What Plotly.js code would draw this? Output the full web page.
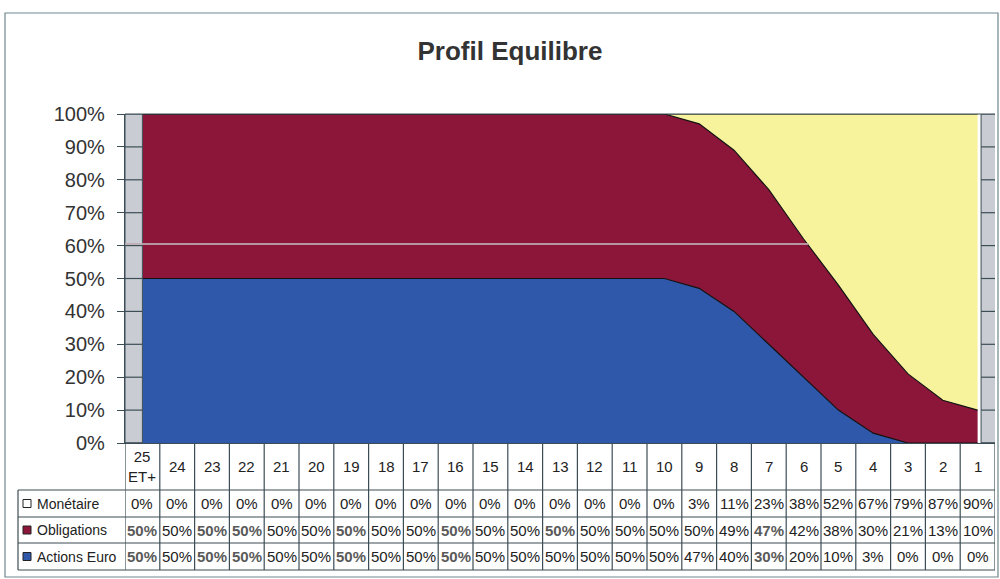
<!DOCTYPE html>
<html>
<head>
<meta charset="utf-8">
<script src="https://cdn.plot.ly/plotly-3.0.1.min.js"></script>
<style>
  html, body { margin: 0; padding: 0; background: #fff; }
  #plot { width: 1000px; height: 579px; }
</style>
</head>
<body>
<div id="plot"></div>
<script>
// années restantes avant l'échéance
var categories = ["25<br>ET+", "24", "23", "22", "21", "20", "19", "18", "17", "16", "15", "14", "13",
                  "12", "11", "10", "9", "8", "7", "6", "5", "4", "3", "2", "1"];

var monetaire   = [0, 0, 0, 0, 0, 0, 0, 0, 0, 0, 0, 0, 0, 0, 0, 0, 3, 11, 23, 38, 52, 67, 79, 87, 90];
var obligations = [50, 50, 50, 50, 50, 50, 50, 50, 50, 50, 50, 50, 50, 50, 50, 50, 50, 49, 47, 42, 38, 30, 21, 13, 10];
var actions     = [50, 50, 50, 50, 50, 50, 50, 50, 50, 50, 50, 50, 50, 50, 50, 50, 47, 40, 30, 20, 10, 3, 0, 0, 0];

var seriesNames = ["Monétaire", "Obligations", "Actions Euro"];
var colors = ["#f7f29c", "#8c1639", "#2f58ab"];

// cellules qui ressortent en gras dans le tableau
var boldObligations = [0, 2, 3, 6, 9, 12, 18];
var boldActions = [0, 2, 3, 6, 9, 18];

// cadre de la zone de tracé, en pixels
var L = 125, R = 995, T = 114, B = 443;
var W = 1000, H = 579;

function px(x) { return (x - L) / (R - L); }
function py(y) { return (B - y) / (B - T); }

var xs = categories.map(function (c, i) { return i; });

var traces = [
  { name: seriesNames[2], y: actions, color: colors[2] },
  { name: seriesNames[1], y: obligations, color: colors[1] },
  { name: seriesNames[0], y: monetaire, color: colors[0] }
].map(function (s) {
  return {
    x: xs,
    y: s.y,
    name: s.name,
    type: "scatter",
    mode: "lines",
    stackgroup: "one",
    fillcolor: s.color,
    line: { color: "#111", width: 1.2, shape: "linear" },
    hoverinfo: "skip"
  };
});

var lineColor = "#3d4d55";
var shapes = [];
var annotations = [];

// murs latéraux gris
shapes.push({ type: "rect", xref: "x", yref: "paper", x0: -0.5, x1: 0, y0: 0, y1: 1,
  fillcolor: "#c9cdd3", line: { color: lineColor, width: 1 }, layer: "above" });
shapes.push({ type: "rect", xref: "x", yref: "paper", x0: 24.1, x1: 24.55, y0: 0, y1: 1,
  fillcolor: "#c9cdd3", line: { color: lineColor, width: 1 }, layer: "above" });
// graduations sur les murs
for (var v = 0; v <= 100; v += 10) {
  shapes.push({ type: "line", xref: "x", yref: "y", x0: -0.5, x1: 0, y0: v, y1: v,
    line: { color: lineColor, width: 1.2 } });
  shapes.push({ type: "line", xref: "x", yref: "y", x0: 24.1, x1: 24.55, y0: v, y1: v,
    line: { color: lineColor, width: 1.2 } });
}
// bord supérieur du fond
shapes.push({ type: "line", xref: "x", yref: "paper", x0: 0, x1: 24.1, y0: 1, y1: 1,
  line: { color: lineColor, width: 1 } });

// trait gris à 60% (jusqu'à la zone monétaire)
var top2 = obligations.map(function (o, i) { return o + actions[i]; });
var cross = 24;
for (var i = 0; i < top2.length - 1; i++) {
  if (top2[i] >= 60 && top2[i + 1] < 60) {
    cross = i + (top2[i] - 60) / (top2[i] - top2[i + 1]);
    break;
  }
}
shapes.push({ type: "line", xref: "x", yref: "y", x0: -0.65, x1: cross, y0: 60.5, y1: 60.5,
  line: { color: "rgba(190,170,178,0.85)", width: 2 }, layer: "above" });

// tableau de données
var rowY = [B, 490, 517, 543, 570];
for (var c = 0; c <= categories.length; c++) {
  shapes.push({ type: "line", xref: "x", yref: "paper", x0: c - 0.5, x1: c - 0.5,
    y0: py(rowY[0]), y1: py(rowY[4]), line: { color: lineColor, width: 1.2 } });
}
shapes.push({ type: "line", xref: "paper", yref: "paper", x0: px(18), x1: px(18),
  y0: py(rowY[1]), y1: py(rowY[4]), line: { color: lineColor, width: 1.2 } });
for (var r = 1; r < rowY.length; r++) {
  shapes.push({ type: "line", xref: "paper", yref: "paper", x0: px(18), x1: 1,
    y0: py(rowY[r]), y1: py(rowY[r]), line: { color: lineColor, width: 1.2 } });
}

var fam = "Liberation Sans, Arial, sans-serif";

categories.forEach(function (cat, i) {
  annotations.push({ x: i, xref: "x", y: py((rowY[0] + rowY[1]) / 2), yref: "paper",
    text: cat, showarrow: false, font: { family: fam, size: 15, color: "#222" },
    xanchor: "center", yanchor: "middle" });
});

var rows = [monetaire, obligations, actions];
var bolds = [[], boldObligations, boldActions];
rows.forEach(function (vals, r) {
  var yc = py((rowY[r + 1] + rowY[r + 2]) / 2);
  vals.forEach(function (v, i) {
    var isBold = bolds[r].indexOf(i) >= 0;
    annotations.push({ x: i, xref: "x", y: yc, yref: "paper",
      text: isBold ? "<b>" + v + "%</b>" : v + "%", showarrow: false,
      font: { family: fam, size: 15, color: isBold ? "#5a5a5a" : "#222" },
      xanchor: "center", yanchor: "middle" });
  });
  // légende dans la première colonne
  shapes.push({ type: "rect", xref: "paper", yref: "paper", x0: px(23), x1: px(31),
    y0: yc - 4 / (B - T), y1: yc + 4 / (B - T),
    fillcolor: r === 0 ? "#fff" : colors[r], line: { color: "#222", width: 1 } });
  annotations.push({ x: px(35), xref: "paper", y: yc, yref: "paper", text: seriesNames[r],
    showarrow: false, xanchor: "left", yanchor: "middle",
    font: { family: fam, size: 14, color: "#222" } });
});

// cadre du graphique
shapes.push({ type: "rect", xref: "paper", yref: "paper", x0: px(5), x1: px(998),
  y0: py(13), y1: py(577), line: { color: "#6f8790", width: 1.2 }, fillcolor: "rgba(0,0,0,0)" });

var layout = {
  width: W,
  height: H,
  margin: { l: L, r: W - R, t: T, b: H - B, pad: 0 },
  paper_bgcolor: "#fff",
  plot_bgcolor: "#fff",
  showlegend: false,
  title: {
    text: "<b>Profil Equilibre</b>",
    xref: "container", yref: "container", x: 0.51, y: 1 - 51 / H,
    xanchor: "center", yanchor: "middle",
    font: { family: fam, size: 26, color: "#333" }
  },
  xaxis: {
    range: [-0.5, 24.5],
    showticklabels: false,
    showgrid: false,
    zeroline: false,
    showline: true,
    linecolor: lineColor,
    linewidth: 1.2,
    ticks: ""
  },
  yaxis: {
    range: [0, 100],
    tickvals: [0, 10, 20, 30, 40, 50, 60, 70, 80, 90, 100],
    ticktext: ["0%", "10%", "20%", "30%", "40%", "50%", "60%", "70%", "80%", "90%", "100%"],
    ticks: "outside",
    ticklen: 7,
    tickcolor: lineColor,
    ticklabelstandoff: 8,
    showgrid: false,
    zeroline: false,
    showline: true,
    linecolor: lineColor,
    linewidth: 1.2,
    tickfont: { family: fam, size: 20, color: "#333" }
  },
  shapes: shapes,
  annotations: annotations
};

Plotly.newPlot("plot", traces, layout, { staticPlot: true, displayModeBar: false });
</script>
</body>
</html>
